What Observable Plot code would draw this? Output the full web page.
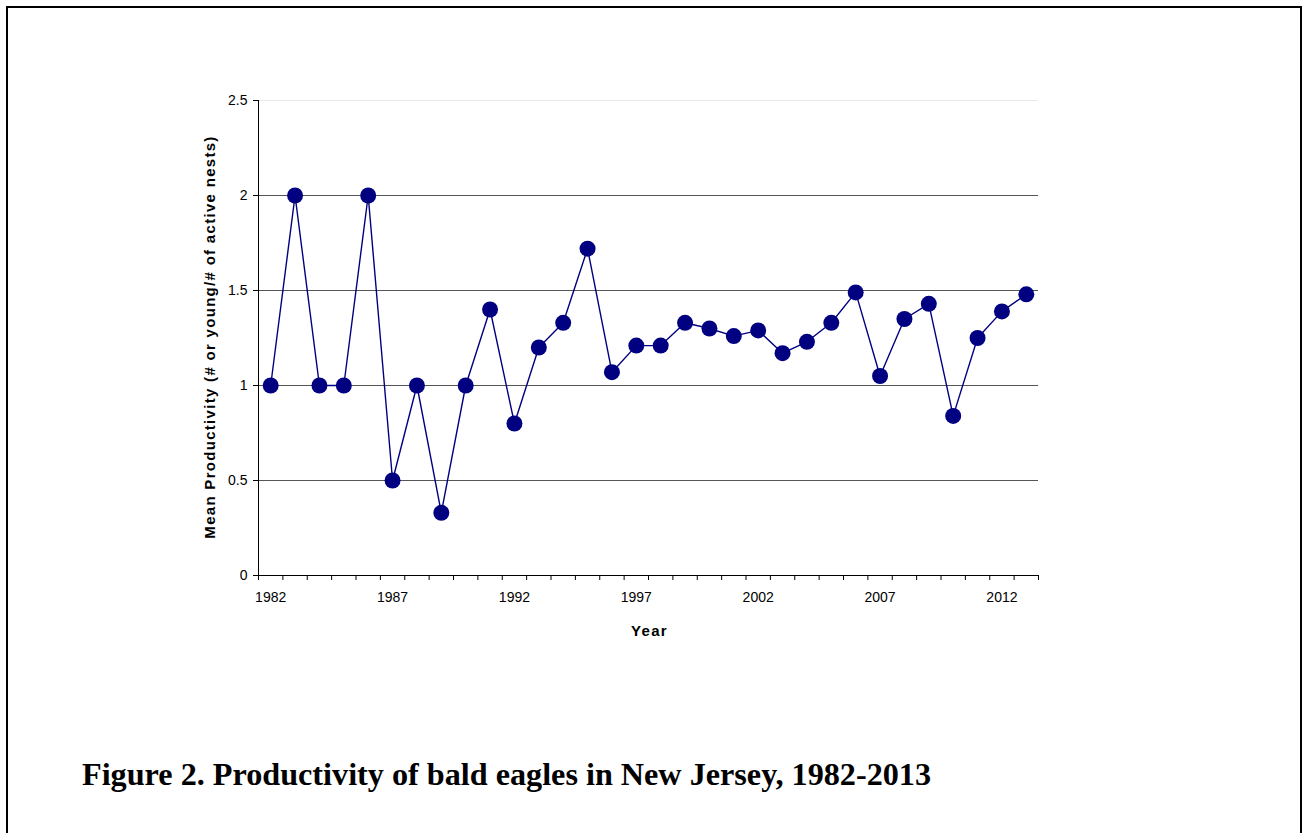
<!DOCTYPE html>
<html><head><meta charset="utf-8">
<script src="https://cdn.jsdelivr.net/npm/d3@7"></script>
<script src="https://cdn.jsdelivr.net/npm/@observablehq/plot@0.6"></script>
<style>
html,body{margin:0;padding:0;background:#fff;width:1304px;height:833px;overflow:hidden;}
#frame{position:absolute;left:6px;top:6px;width:1292px;height:840px;border:2px solid #000;}
#chart{position:absolute;left:0;top:0;}
#caption{position:absolute;left:82px;top:758px;font-family:"Liberation Serif","Times New Roman",serif;font-weight:bold;font-size:32.2px;color:#000;white-space:nowrap;line-height:1;}
</style></head><body>
<div id="frame"></div>
<div id="chart"></div>
<div id="caption">Figure 2. Productivity of bald eagles in New Jersey, 1982-2013</div>
<script>
const years = [1982,1983,1984,1985,1986,1987,1988,1989,1990,1991,1992,1993,1994,1995,1996,1997,1998,1999,2000,2001,2002,2003,2004,2005,2006,2007,2008,2009,2010,2011,2012,2013];
const productivity = [1.0,2.0,1.0,1.0,2.0,0.5,1.0,0.33,1.0,1.40,0.80,1.20,1.33,1.72,1.07,1.21,1.21,1.33,1.30,1.26,1.29,1.17,1.23,1.33,1.49,1.05,1.35,1.43,0.84,1.25,1.39,1.48];
const yTicks = [0,0.5,1,1.5,2,2.5];
const gridValues = [0.5,1,1.5,2];
const xLabelYears = [1982,1987,1992,1997,2002,2007,2012];
const xTitle = "Year";
const yTitle = "Mean Productivity (# or young/# of active nests)";

const data = years.map((year,i)=>({year, value: productivity[i]}));
const boundaries = years.map(y=>y-0.5).concat([years[years.length-1]+0.5]);

const chart = Plot.plot({
  width:1304, height:660,
  marginLeft:258, marginRight:266, marginTop:100, marginBottom:85,
  style:{fontFamily:"Arial, 'Liberation Sans', sans-serif", fontSize:"14px", background:"transparent", color:"#000", overflow:"visible"},
  x:{type:"linear", domain:[years[0]-0.5, years[years.length-1]+0.5]},
  y:{domain:[0,2.5]},
  marks:[
    Plot.ruleY([2.5], {stroke:"#e8e8e8"}),
    Plot.ruleY(gridValues, {stroke:"#555"}),
    Plot.axisY({ticks:yTicks, tickSize:5, tickPadding:6, tickFormat:d=>String(d), label:null, stroke:"#000"}),
    Plot.axisX({ticks:boundaries, tickSize:5, tickFormat:()=>"", label:null, stroke:"#000"}),
    Plot.axisX({ticks:xLabelYears, tickSize:0, tickPadding:17, tickFormat:d=>String(d), label:null}),
    Plot.ruleX([years[0]-0.5], {stroke:"#000"}),
    Plot.ruleY([0], {stroke:"#000"}),
    Plot.line(data, {x:"year", y:"value", stroke:"#000080", strokeWidth:1.4}),
    Plot.dot(data, {x:"year", y:"value", r:8, fill:"#000080"}),
    Plot.text([xTitle], {text:d=>d, frameAnchor:"bottom", lineAnchor:"middle", dy:56, dx:1, fontWeight:"bold", fontSize:15}),
    Plot.text([yTitle], {text:d=>d, frameAnchor:"left", lineAnchor:"middle", textAnchor:"middle", rotate:-90, dx:-48, dy:-1, fontWeight:"bold", fontSize:15})
  ]
});
d3.select(chart).selectAll("text")
  .filter(function(){ return this.textContent === xTitle || this.textContent === yTitle; })
  .style("letter-spacing", "1.3px");
document.getElementById("chart").appendChild(chart);
</script>
</body></html>
